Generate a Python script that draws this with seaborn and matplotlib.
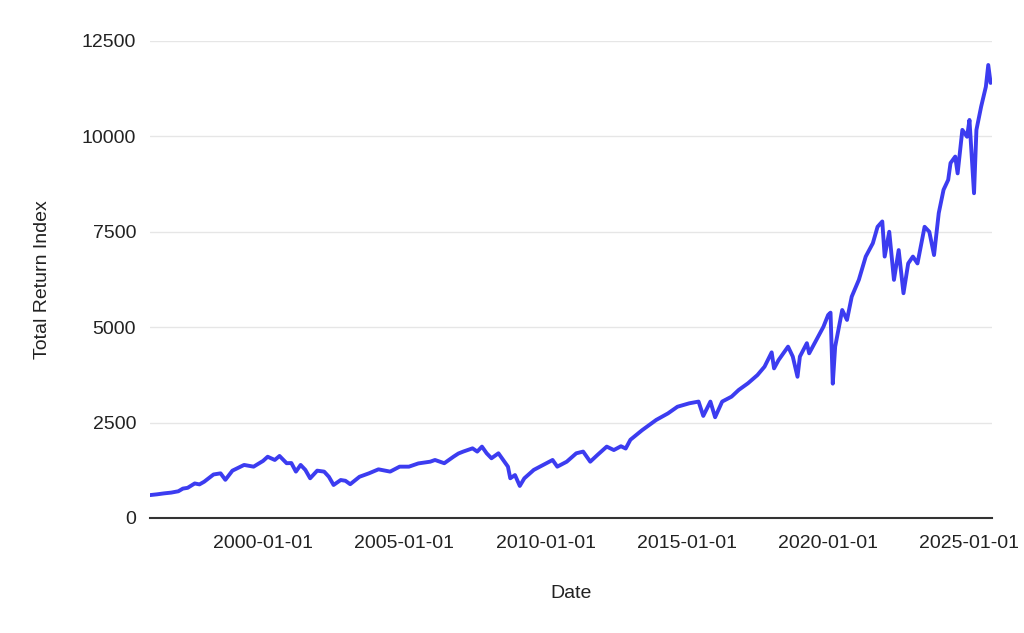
import pandas as pd
import matplotlib
matplotlib.use("Agg")
import matplotlib.pyplot as plt
import matplotlib.dates as mdates
import seaborn as sns

# monthly points
dates = [
    "1996-01", "1996-04", "1996-07", "1996-10", "1997-01", "1997-03", "1997-05", "1997-08",
    "1997-10", "1997-12", "1998-04", "1998-07", "1998-09", "1998-12", "1999-05", "1999-09",
    "2000-01", "2000-03", "2000-06", "2000-08", "2000-11", "2001-01", "2001-03", "2001-05",
    "2001-07", "2001-09", "2001-12", "2002-03", "2002-05", "2002-07", "2002-10", "2002-12",
    "2003-02", "2003-06", "2003-10", "2004-02", "2004-07", "2004-11", "2005-03", "2005-07",
    "2005-12", "2006-02", "2006-06", "2006-10", "2006-12", "2007-02", "2007-06", "2007-08",
    "2007-10", "2007-12", "2008-02", "2008-05", "2008-07", "2008-09", "2008-10", "2008-12",
    "2009-02", "2009-04", "2009-08", "2009-12", "2010-04", "2010-06", "2010-10", "2011-02",
    "2011-05", "2011-08", "2011-11", "2012-03", "2012-06", "2012-09", "2012-11", "2013-01",
    "2013-06", "2013-12", "2014-05", "2014-09", "2015-02", "2015-06", "2015-08", "2015-11",
    "2016-01", "2016-04", "2016-08", "2016-11", "2017-03", "2017-07", "2017-10", "2018-01",
    "2018-02", "2018-04", "2018-08", "2018-10", "2018-12", "2019-01", "2019-04", "2019-05",
    "2019-08", "2019-11", "2020-01", "2020-02", "2020-03", "2020-04", "2020-07", "2020-09",
    "2020-11", "2021-02", "2021-05", "2021-08", "2021-10", "2021-12", "2022-01", "2022-03",
    "2022-05", "2022-07", "2022-09", "2022-11", "2023-01", "2023-03", "2023-06", "2023-08",
    "2023-10", "2023-12", "2024-02", "2024-04", "2024-05", "2024-07", "2024-08", "2024-10",
    "2024-12", "2025-01", "2025-03", "2025-04", "2025-06", "2025-08", "2025-09", "2025-10",
]
values = [
    600, 620, 645, 665, 700, 770, 790, 905,
    880, 950, 1140, 1170, 1000, 1240, 1390, 1345,
    1495, 1605, 1520, 1625, 1435, 1440, 1215, 1390,
    1260, 1040, 1240, 1215, 1080, 865, 995, 975,
    885, 1080, 1170, 1275, 1215, 1345, 1345, 1430,
    1475, 1520, 1435, 1610, 1690, 1740, 1825, 1740,
    1870, 1695, 1565, 1695, 1520, 1345, 1040, 1125,
    840, 1040, 1260, 1390, 1520, 1345, 1475, 1695,
    1740, 1475, 1650, 1870, 1780, 1880, 1820, 2050,
    2300, 2570, 2740, 2915, 3005, 3050, 2675, 3050,
    2640, 3050, 3180, 3355, 3530, 3745, 3965, 4340,
    3920, 4140, 4490, 4230, 3700, 4230, 4580, 4315,
    4665, 5010, 5320, 5380, 3520, 4490, 5450, 5190,
    5800, 6240, 6850, 7200, 7630, 7770, 6850, 7500,
    6240, 7020, 5890, 6670, 6850, 6670, 7630, 7500,
    6890, 7990, 8600, 8860, 9300, 9470, 9030, 10170,
    9990, 10430, 8510, 10170, 10780, 11300, 11870, 11400,
]
y_ticks = [0, 2500, 5000, 7500, 10000, 12500]

df = pd.DataFrame({"Date": pd.to_datetime(dates), "Total Return Index": values})

sns.set_style("white")
plt.rcParams["font.family"] = ["Liberation Sans", "DejaVu Sans"]

fig = plt.figure(figsize=(10.24, 6.33), dpi=100)
ax = fig.add_axes([0.1465, 0.1817, 0.8223, 0.7536])

sns.lineplot(data=df, x="Date", y="Total Return Index", color="#3c3cf0",
             linewidth=2.8, ax=ax)

ax.set_xlim(df["Date"].iloc[0], pd.Timestamp("2025-10-20"))
ax.set_ylim(0, 12500)
ax.set_yticks(y_ticks)
ax.xaxis.set_major_locator(mdates.YearLocator(5))
ax.xaxis.set_major_formatter(mdates.DateFormatter("%Y-%m-%d"))

ax.yaxis.grid(True, color="#e6e6e6", linewidth=1)
ax.xaxis.grid(False)
for s in ["top", "right", "left"]:
    ax.spines[s].set_visible(False)
ax.spines["bottom"].set_color("#333333")
ax.spines["bottom"].set_linewidth(1.5)
ax.tick_params(axis="both", length=0, labelsize=14, colors="#222222")
ax.tick_params(axis="y", pad=10)
ax.tick_params(axis="x", pad=12)

ax.set_xlabel("Date", fontsize=14, color="#222222", labelpad=24)
ax.set_ylabel("Total Return Index", fontsize=14, color="#222222", labelpad=22)

fig.savefig("out.png", dpi=100)
